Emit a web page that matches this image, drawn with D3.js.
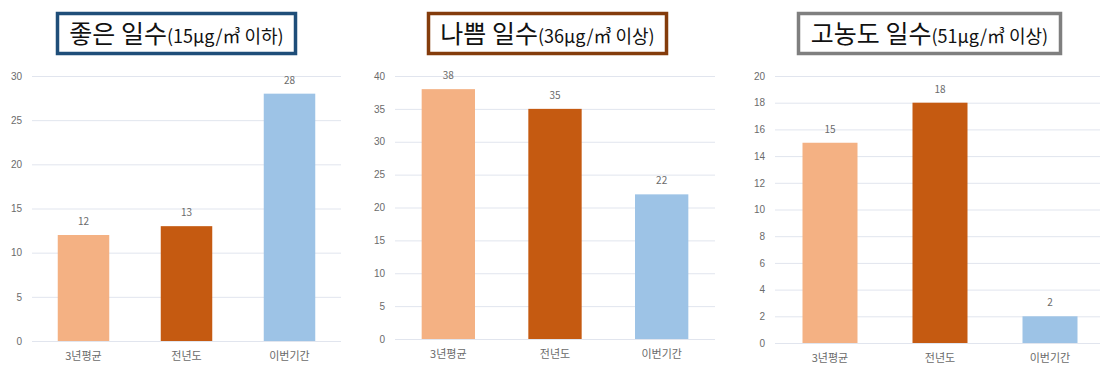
<!DOCTYPE html>
<html>
<head>
<meta charset="utf-8">
<script src="https://cdn.jsdelivr.net/npm/d3@7"></script>
<style>
  body { margin: 0; background: #fff; }
  svg { display: block; font-family: "Noto Sans CJK KR", "Noto Sans", sans-serif; }
  .tick text { fill: #6b6b6b; font-size: 10px; }
  .tick line { stroke: #e1e5ee; }
</style>
</head>
<body>
<script>
// data
var categories = ["3년평균", "전년도", "이번기간"];
var goodDays = [12, 13, 28];
var badDays = [38, 35, 22];
var highDays = [15, 18, 2];

var titleMain = ["좋은 일수", "나쁨 일수", "고농도 일수"];
var titleSub = ["(15μg/㎥ 이하)", "(36μg/㎥ 이상)", "(51μg/㎥ 이상)"];

var goodTicks = [0, 5, 10, 15, 20, 25, 30];
var badTicks = [0, 5, 10, 15, 20, 25, 30, 35, 40];
var highTicks = [0, 2, 4, 6, 8, 10, 12, 14, 16, 18, 20];

var barColors = ["#f4b183", "#c55a11", "#9dc3e6"];

var svg = d3.select("body").append("svg")
    .attr("width", 1100)
    .attr("height", 369);

// layout of the three panels
var panels = [
  { values: goodDays, ticks: goodTicks, left: 32, right: 341, top: 76, bottom: 341,
    box: [56, 297], border: "#1f4e79", title: 0 },
  { values: badDays, ticks: badTicks, left: 395, right: 715, top: 76, bottom: 339,
    box: [427, 668], border: "#843c0c", title: 1 },
  { values: highDays, ticks: highTicks, left: 775, right: 1105, top: 76, bottom: 343,
    box: [797, 1062], border: "#7f7f7f", title: 2 }
];

panels.forEach(function(p) {
  var x = d3.scaleBand()
      .domain(categories)
      .range([p.left, p.right])
      .paddingInner(0.5)
      .paddingOuter(0.25);
  var y = d3.scaleLinear()
      .domain([0, d3.max(p.ticks)])
      .range([p.bottom, p.top]);

  // gridlines + y labels
  var gy = svg.append("g")
      .attr("transform", "translate(" + p.left + ",0)")
      .call(d3.axisLeft(y).tickValues(p.ticks).tickSize(-(p.right - p.left)).tickPadding(10));
  gy.select(".domain").remove();

  // bars
  svg.append("g").selectAll("rect")
    .data(p.values)
    .enter().append("rect")
      .attr("x", function(d, i) { return x(categories[i]); })
      .attr("y", function(d) { return y(d); })
      .attr("width", x.bandwidth())
      .attr("height", function(d) { return y(0) - y(d); })
      .attr("fill", function(d, i) { return barColors[i]; });

  // value labels
  svg.append("g").selectAll("text")
    .data(p.values)
    .enter().append("text")
      .attr("x", function(d, i) { return x(categories[i]) + x.bandwidth() / 2; })
      .attr("y", function(d) { return y(d) - 10; })
      .attr("text-anchor", "middle")
      .attr("font-size", 10)
      .attr("fill", "#6b6b6b")
      .text(function(d) { return d; });

  // category labels
  svg.append("g").selectAll("text")
    .data(categories)
    .enter().append("text")
      .attr("x", function(d) { return x(d) + x.bandwidth() / 2; })
      .attr("y", p.bottom + 19)
      .attr("text-anchor", "middle")
      .attr("font-size", 11)
      .attr("fill", "#6b6b6b")
      .text(function(d) { return d; });

  // title box
  svg.append("rect")
    .attr("x", p.box[0] + 1.5)
    .attr("y", 13.5)
    .attr("width", p.box[1] - p.box[0] - 3)
    .attr("height", 40)
    .attr("fill", "#fff")
    .attr("stroke", p.border)
    .attr("stroke-width", 3.5);

  var t = svg.append("text")
    .attr("x", (p.box[0] + p.box[1]) / 2)
    .attr("y", 43)
    .attr("text-anchor", "middle")
    .attr("fill", "#111");
  t.append("tspan")
    .attr("font-size", 25)
    .text(titleMain[p.title]);
  t.append("tspan")
    .attr("font-size", 18)
    .text(titleSub[p.title]);
});
</script>
</body>
</html>
